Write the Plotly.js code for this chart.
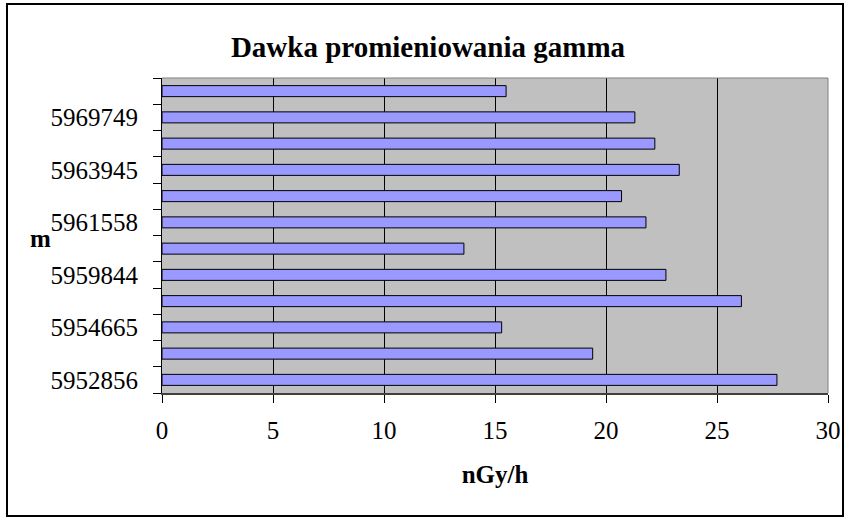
<!DOCTYPE html>
<html>
<head>
<meta charset="utf-8">
<script src="https://cdn.plot.ly/plotly-3.0.1.min.js"></script>
<style>
  html, body { margin: 0; padding: 0; background: #fff; }
  #chart { width: 845px; height: 517px; }
</style>
</head>
<body>
<div id="chart"></div>
<script>
// Category labels (bottom to top); unlabeled categories are empty in the source
const categories = ['5952856', '', '5954665', '', '5959844', '', '5961558', '', '5963945', '', '5969749', ''];
// Gamma dose rate, nGy/h (bottom to top)
const doseValues = [27.7, 19.4, 15.3, 26.1, 22.7, 13.6, 21.8, 20.7, 23.3, 22.2, 21.3, 15.5];
const xTicks = [0, 5, 10, 15, 20, 25, 30];
const chartTitle = 'Dawka promieniowania gamma';
const xTitle = 'nGy/h';
const yTitle = 'm';

const W = 845, H = 517;
const M = { l: 162, r: 17, t: 78, b: 124 };
const pw = W - M.l - M.r, ph = H - M.t - M.b;
const px2x = p => (p - M.l) / pw;
const py2y = p => (H - M.b - p) / ph;

const FONT = 'Liberation Serif, "Times New Roman", serif';
const positions = categories.map((c, i) => i + 1);
const boundaries = categories.map((c, i) => i + 0.5).concat([categories.length + 0.5]);
const yRange = [0.5, categories.length + 0.5];

const traces = [
  {
    type: 'bar',
    orientation: 'h',
    x: doseValues,
    y: positions,
    width: 0.42,
    marker: { color: '#9999FF', line: { color: '#000000', width: 1 } },
    hoverinfo: 'x',
    showlegend: false
  },
  {
    type: 'scatter',
    mode: 'markers',
    x: [],
    y: [],
    yaxis: 'y2',
    showlegend: false,
    hoverinfo: 'skip'
  }
];

const layout = {
  width: W,
  height: H,
  margin: M,
  paper_bgcolor: '#ffffff',
  plot_bgcolor: '#C0C0C0',
  font: { family: FONT, color: '#000000', size: 25 },
  showlegend: false,
  bargap: 0.58,
  title: {
    text: '<b>' + chartTitle + '</b>',
    font: { family: FONT, size: 29, color: '#000000' },
    xref: 'container', yref: 'container',
    x: 428 / W, xanchor: 'center',
    y: 1 - 47 / H, yanchor: 'middle'
  },
  xaxis: {
    range: [0, 30],
    tickmode: 'array',
    tickvals: xTicks,
    ticks: 'outside',
    ticklen: 8,
    tickcolor: '#000000',
    tickwidth: 1,
    showgrid: true,
    gridcolor: '#000000',
    gridwidth: 1,
    zeroline: false,
    showline: true,
    linecolor: '#404040',
    linewidth: 2,
    tickfont: { family: FONT, size: 25, color: '#000000' },
    ticklabelstandoff: 6,
    title: {
      text: '<b>' + xTitle + '</b>',
      font: { family: FONT, size: 25, color: '#000000' },
      standoff: 22
    },
    fixedrange: true
  },
  yaxis: {
    range: yRange,
    tickmode: 'array',
    tickvals: positions,
    ticktext: categories,
    ticks: '',
    showgrid: false,
    zeroline: false,
    showline: true,
    linecolor: '#000000',
    linewidth: 1,
    tickfont: { family: FONT, size: 25, color: '#000000' },
    ticklabelstandoff: 18,
    fixedrange: true
  },
  yaxis2: {
    overlaying: 'y',
    anchor: 'x',
    side: 'left',
    range: yRange,
    tickmode: 'array',
    tickvals: boundaries,
    ticks: 'outside',
    ticklen: 8,
    tickcolor: '#000000',
    tickwidth: 1,
    showticklabels: false,
    showgrid: false,
    zeroline: false,
    showline: false,
    fixedrange: true
  },
  annotations: [
    {
      text: '<b>' + yTitle + '</b>',
      xref: 'paper', yref: 'paper',
      x: px2x(41), y: py2y(238),
      xanchor: 'center', yanchor: 'middle',
      showarrow: false,
      font: { family: FONT, size: 25, color: '#000000' }
    }
  ],
  shapes: [
    // plot area border (top and right)
    { type: 'line', xref: 'paper', yref: 'paper', x0: 0, x1: 1, y0: 1, y1: 1,
      line: { color: '#808080', width: 1 }, layer: 'above' },
    { type: 'line', xref: 'paper', yref: 'paper', x0: 1, x1: 1, y0: 0, y1: 1,
      line: { color: '#808080', width: 1 }, layer: 'above' },
    // chart frame
    { type: 'rect', xref: 'paper', yref: 'paper',
      x0: px2x(7), x1: px2x(843), y0: py2y(516), y1: py2y(4),
      line: { color: '#000000', width: 2 }, fillcolor: 'rgba(0,0,0,0)', layer: 'above' }
  ]
};

Plotly.newPlot('chart', traces, layout, { displayModeBar: false, staticPlot: true });
</script>
</body>
</html>
